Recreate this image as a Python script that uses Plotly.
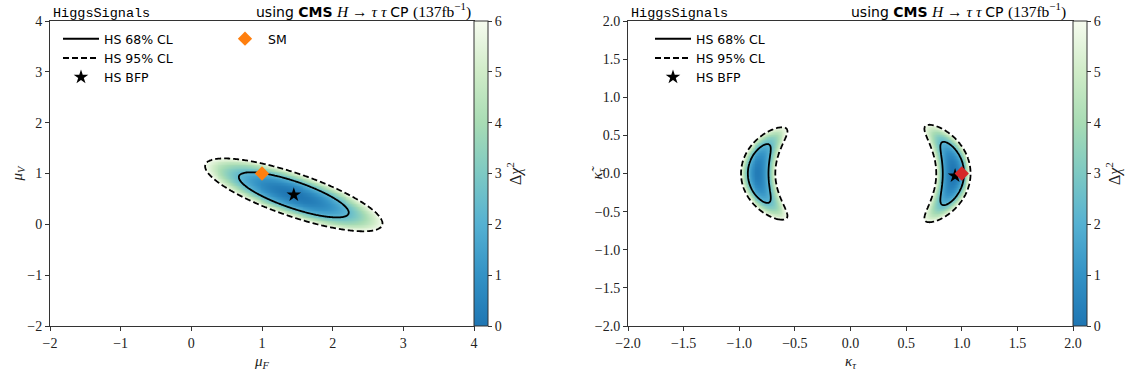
import numpy as np
import plotly.graph_objects as go

# ---------------- values ----------------
# Left panel: (mu_F, mu_V)
MU_RANGE = [-2, 4]
MU_TICKS = [-2, -1, 0, 1, 2, 3, 4]
MU_BFP = [1.45, 0.58]            # HS best-fit point
MU_SM = [1.0, 1.0]               # SM point
MU_CL68_SEMI_AXES = [0.86, 0.25]   # semi-axes of the 68% CL ellipse
MU_CL68_TILT_DEG = -26.5           # tilt of the ellipse major axis
MU_GRID_X = [-0.3, 3.3]
MU_GRID_Y = [-0.7, 1.9]

# Right panel: (kappa_tau, kappa_tilde_tau)
KAPPA_RANGE = [-2.0, 2.0]
KAPPA_TICKS = [-2.0, -1.5, -1.0, -0.5, 0.0, 0.5, 1.0, 1.5, 2.0]
KAPPA_BFP = [0.94, -0.03]
KAPPA_SM = [1.0, 0.0]
# two crescent-shaped lobes: [right lobe, left lobe]
LOBE_SIDE = [1, -1]
LOBE_RADIUS = [0.925, 0.83]
LOBE_RADIUS_SIGMA = [0.063, 0.064]
LOBE_ANGLE_SIGMA_DEG = [17.5, 19.0]
LOBE_MIN_DCHI2 = [0.0, 0.2]
KAPPA_GRID_X = [-1.3, 1.3]
KAPPA_GRID_Y = [-1.0, 1.0]

CL_LEVELS = [2.30, 5.99]
CL_NAMES = ["HS 68% CL", "HS 95% CL"]
CL_DASH = ["solid", "6px,3px"]
DCHI2_MAX = 6
DCHI2_TICKS = [0, 1, 2, 3, 4, 5, 6]

COLORSCALE = [
    [0.0, "#1f76b3"],
    [1 / 6, "#3392c5"],
    [2 / 6, "#55b1d2"],
    [3 / 6, "#7dc9c3"],
    [4 / 6, "#a8dcb4"],
    [5 / 6, "#d0ecc8"],
    [1.0, "#f6fbef"],
]

HEADER = ('<span style="font-family:DejaVu Sans;font-size:14px">using <b>CMS</b> </span>'
          '<i>H</i> → <i>τ τ</i> '
          '<span style="font-family:DejaVu Sans;font-size:14px">CP </span>(137fb<sup>−1</sup>)')

W, H = 1134, 378
SERIF = "Liberation Serif, Times New Roman, serif"
SANS = "DejaVu Sans"


def px_x(p):
    return p / W


def px_y(p):
    return 1 - p / H


# ---------------- Δχ² surfaces ----------------
def mu_surface():
    xs = np.linspace(MU_GRID_X[0], MU_GRID_X[1], 261)
    ys = np.linspace(MU_GRID_Y[0], MU_GRID_Y[1], 171)
    X, Y = np.meshgrid(xs, ys)
    th = np.radians(MU_CL68_TILT_DEG)
    dx, dy = X - MU_BFP[0], Y - MU_BFP[1]
    u = dx * np.cos(th) + dy * np.sin(th)
    v = -dx * np.sin(th) + dy * np.cos(th)
    a, b = MU_CL68_SEMI_AXES
    z = CL_LEVELS[0] * ((u / a) ** 2 + (v / b) ** 2)
    return xs, ys, z


def kappa_surface():
    xs = np.linspace(KAPPA_GRID_X[0], KAPPA_GRID_X[1], 301)
    ys = np.linspace(KAPPA_GRID_Y[0], KAPPA_GRID_Y[1], 211)
    X, Y = np.meshgrid(xs, ys)
    r = np.hypot(X, Y)
    lobes = []
    for side, r0, sr, sphi, m in zip(LOBE_SIDE, LOBE_RADIUS, LOBE_RADIUS_SIGMA,
                                      LOBE_ANGLE_SIGMA_DEG, LOBE_MIN_DCHI2):
        phi = np.degrees(np.arctan2(Y, side * X))
        lobes.append(m + ((r - r0) / sr) ** 2 + (phi / sphi) ** 2)
    z = np.minimum(*lobes)
    return xs, ys, z


left_dom_x = [px_x(50), px_x(474)]
right_dom_x = [px_x(628), px_x(1073)]
dom_y = [px_y(326), px_y(21)]

fig = go.Figure()


def add_panel(xs, ys, z, xa, ya, cb_x):
    zm = np.where(z <= DCHI2_MAX, z, np.nan)
    fig.add_trace(go.Heatmap(
        x=xs, y=ys, z=zm, xaxis=xa, yaxis=ya, zmin=0, zmax=DCHI2_MAX,
        colorscale=COLORSCALE, zsmooth=False, hoverinfo="skip",
        colorbar=dict(
            x=cb_x, xanchor="left", xpad=0, ypad=0, thickness=14,
            len=dom_y[1] - dom_y[0], lenmode="fraction",
            y=(dom_y[0] + dom_y[1]) / 2, yanchor="middle",
            outlinecolor="#333", outlinewidth=1,
            tickvals=DCHI2_TICKS, ticks="outside", ticklen=4, tickcolor="#333",
            tickfont=dict(family=SERIF, size=14, color="#222"),
            title=dict(text="Δ<i>χ</i><sup>2</sup>", side="right",
                       font=dict(family=SERIF, size=16, color="#222")),
        ),
    ))
    for lvl, dash in zip(CL_LEVELS, CL_DASH):
        fig.add_trace(go.Contour(
            x=xs, y=ys, z=z, xaxis=xa, yaxis=ya, showscale=False,
            contours=dict(start=lvl, end=lvl, size=1, coloring="lines"),
            line=dict(color="black", width=1.8, dash=dash),
            colorscale=[[0, "black"], [1, "black"]],
            hoverinfo="skip", showlegend=False,
        ))


xs, ys, z = mu_surface()
add_panel(xs, ys, z, "x", "y", left_dom_x[1])
xs2, ys2, z2 = kappa_surface()
add_panel(xs2, ys2, z2, "x2", "y2", right_dom_x[1])

# legend entries for CL lines
for legend_id, xa, ya in [("legend", "x", "y"), ("legend3", "x2", "y2")]:
    for name, dash in zip(CL_NAMES, CL_DASH):
        fig.add_trace(go.Scatter(
            x=[None], y=[None], xaxis=xa, yaxis=ya, mode="lines", name=name,
            line=dict(color="black", width=2, dash=dash), legend=legend_id,
        ))

# best fit points
fig.add_trace(go.Scatter(
    x=[MU_BFP[0]], y=[MU_BFP[1]], mode="markers", name="HS BFP", legend="legend",
    marker=dict(symbol="star", size=11, color="black"), xaxis="x", yaxis="y"))
fig.add_trace(go.Scatter(
    x=[MU_SM[0]], y=[MU_SM[1]], mode="markers", name="SM", legend="legend2",
    marker=dict(symbol="diamond", size=11, color="#ff7f0e"), xaxis="x", yaxis="y"))
fig.add_trace(go.Scatter(
    x=[KAPPA_BFP[0]], y=[KAPPA_BFP[1]], mode="markers", name="HS BFP", legend="legend3",
    marker=dict(symbol="star", size=11, color="black"), xaxis="x2", yaxis="y2"))
fig.add_trace(go.Scatter(
    x=[KAPPA_SM[0]], y=[KAPPA_SM[1]], mode="markers", name="SM", showlegend=False,
    marker=dict(symbol="diamond", size=11, color="#d62728"), xaxis="x2", yaxis="y2"))

axis_common = dict(
    showline=True, linecolor="#333", linewidth=1, mirror=True,
    ticks="outside", ticklen=4, tickcolor="#333", showgrid=False, zeroline=False,
    tickfont=dict(family=SERIF, size=14, color="#222"), automargin=False,
)

legend_common = dict(
    bgcolor="rgba(0,0,0,0)", borderwidth=0, xanchor="left", yanchor="top",
    font=dict(family=SANS, size=12.5, color="black"), tracegroupgap=0,
    itemwidth=36,
)

fig.update_layout(
    width=W, height=H, margin=dict(l=0, r=0, t=0, b=0),
    paper_bgcolor="white", plot_bgcolor="white",
    xaxis=dict(domain=left_dom_x, range=MU_RANGE, tickvals=MU_TICKS, anchor="y", **axis_common),
    yaxis=dict(domain=dom_y, range=MU_RANGE, tickvals=MU_TICKS, anchor="x", **axis_common),
    xaxis2=dict(domain=right_dom_x, range=KAPPA_RANGE, tickvals=KAPPA_TICKS,
                tickformat=".1f", anchor="y2", **axis_common),
    yaxis2=dict(domain=dom_y, range=KAPPA_RANGE, tickvals=KAPPA_TICKS,
                tickformat=".1f", anchor="x2", **axis_common),
    legend=dict(x=px_x(58), y=px_y(24), **legend_common),
    legend2=dict(x=px_x(222), y=px_y(24), **legend_common),
    legend3=dict(x=px_x(650), y=px_y(24), **legend_common),
    showlegend=True,
)

annotations = []
for hs_x, hdr_x in [(51, 473), (629, 1068)]:
    annotations.append(dict(
        x=px_x(hs_x), y=dom_y[1], xref="paper", yref="paper", xanchor="left",
        yanchor="bottom", text="HiggsSignals", showarrow=False, yshift=-2,
        font=dict(family="Liberation Mono", size=13.5, color="black")))
    annotations.append(dict(
        x=px_x(hdr_x), y=dom_y[1], xref="paper", yref="paper", xanchor="right",
        yanchor="bottom", text=HEADER, showarrow=False, yshift=-2,
        font=dict(family=SERIF, size=15.5, color="black")))

annotations += [
    dict(x=(left_dom_x[0] + left_dom_x[1]) / 2, y=px_y(362), text="<i>μ<sub>F</sub></i>"),
    dict(x=(right_dom_x[0] + right_dom_x[1]) / 2, y=px_y(362), text="<i>κ<sub>τ</sub></i>"),
    dict(x=px_x(17), y=(dom_y[0] + dom_y[1]) / 2, text="<i>μ<sub>V</sub></i>", textangle=-90),
    dict(x=px_x(597), y=(dom_y[0] + dom_y[1]) / 2, text="<i>κ̃<sub>τ</sub></i>", textangle=-90),
]
for a in annotations[-4:]:
    a.update(xref="paper", yref="paper", showarrow=False, xanchor="center", yanchor="middle",
             font=dict(family=SERIF, size=15, color="#222"))

fig.update_layout(annotations=annotations)

fig.write_html("out.html")
